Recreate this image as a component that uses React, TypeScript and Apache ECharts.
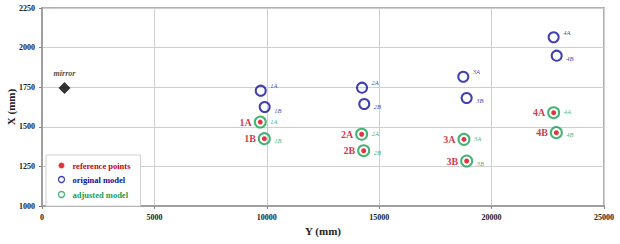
import React, { useEffect, useRef } from "react";
import * as echarts from "echarts";

const pointNames = ["1A", "1B", "2A", "2B", "3A", "3B", "4A", "4B"];
// horizontal axis "Y (mm)" and vertical axis "X (mm)"
const refY = [9710, 9890, 14220, 14310, 18770, 18890, 22760, 22880];
const refX = [1530, 1425, 1453, 1349, 1421, 1284, 1589, 1463];
const origY = [9730, 9905, 14235, 14335, 18740, 18890, 22760, 22895];
const origX = [1728, 1625, 1747, 1644, 1816, 1682, 2065, 1949];
const adjY = [9710, 9890, 14220, 14310, 18770, 18890, 22760, 22880];
const adjX = [1530, 1425, 1453, 1349, 1421, 1284, 1589, 1463];
const mirrorY = [1000];
const mirrorX = [1745];
const xTicks = [0, 5000, 10000, 15000, 20000, 25000];
const yTicks = [1000, 1250, 1500, 1750, 2000, 2250];

const RED = "#e00010";
const RED_TXT = "#cc0010";
const BLUE = "#10109c";
const GREEN = "#14a050";
const SERIF = "'Liberation Serif', 'Times New Roman', serif";

export default function App() {
  const ref = useRef<HTMLDivElement>(null);
  useEffect(() => {
    document.body.style.margin = "0";
    const chart = echarts.init(ref.current!, null, { renderer: "svg" });
    const isA = (n: string) => n.endsWith("A");
    const option: any = {
      animation: false,
      backgroundColor: "#fff",
      textStyle: { fontFamily: SERIF },
      grid: {
        left: 42,
        right: 16,
        top: 8,
        bottom: 38,
        outerBoundsMode: "none",
        containLabel: false,
        show: true,
        borderColor: "#b0b0b0",
        borderWidth: 2,
      },
      legend: {
        orient: "vertical",
        left: 46,
        top: 155,
        itemWidth: 6,
        itemHeight: 6,
        itemGap: 4,
        padding: [6, 10, 6, 10],
        backgroundColor: "#fff",
        borderColor: "#d0d0d0",
        borderWidth: 1,
        textStyle: { fontFamily: SERIF, fontWeight: "bold", fontSize: 8.5, padding: [0, 0, 0, 3] },
        data: [
          { name: "reference points", icon: "circle", itemStyle: { color: RED }, textStyle: { color: RED_TXT } },
          { name: "original model", icon: "circle", itemStyle: { color: "none", borderColor: BLUE, borderWidth: 1.3 }, textStyle: { color: BLUE } },
          { name: "adjusted model", icon: "circle", itemStyle: { color: "none", borderColor: GREEN, borderWidth: 1.3 }, textStyle: { color: GREEN } },
        ],
      },
      xAxis: {
        type: "value",
        min: xTicks[0],
        max: xTicks[xTicks.length - 1],
        interval: 5000,
        name: "Y (mm)",
        nameLocation: "middle",
        nameGap: 19,
        nameMoveOverlap: false,
        nameTextStyle: { fontFamily: SERIF, fontWeight: "bold", fontSize: 11, color: "#222" },
        axisLine: { lineStyle: { color: "#a0a0a0", width: 2 } },
        axisTick: { show: true, length: 3, lineStyle: { color: "#888" } },
        axisLabel: { fontFamily: SERIF, fontWeight: "bold", fontSize: 8, color: "#222", margin: 7, formatter: (v: number) => String(v) },
        splitLine: { lineStyle: { color: "#cfcfcf", width: 1 } },
      },
      yAxis: {
        type: "value",
        min: yTicks[0],
        max: yTicks[yTicks.length - 1],
        interval: 250,
        name: "X (mm)",
        nameLocation: "middle",
        nameGap: 26,
        nameMoveOverlap: false,
        nameTextStyle: { fontFamily: SERIF, fontWeight: "bold", fontSize: 11, color: "#222" },
        axisLine: { show: true, lineStyle: { color: "#a0a0a0", width: 2 } },
        axisTick: { show: true, length: 3, lineStyle: { color: "#888" } },
        axisLabel: { fontFamily: SERIF, fontWeight: "bold", fontSize: 8, color: "#222", margin: 7, formatter: (v: number) => String(v) },
        splitLine: { lineStyle: { color: "#cfcfcf", width: 1 } },
      },
      series: [
        {
          name: "mirror",
          type: "scatter",
          symbol: "diamond",
          symbolSize: 12,
          itemStyle: { color: "#000" },
          data: mirrorY.map((v, i) => ({ value: [v, mirrorX[i]], name: "mirror" })),
          label: {
            show: true,
            position: "top",
            distance: 4,
            formatter: "{b}",
            fontFamily: SERIF,
            fontStyle: "italic",
            fontWeight: "bold",
            fontSize: 8,
            color: "#111",
          },
          z: 5,
        },
        {
          name: "original model",
          type: "scatter",
          symbol: "circle",
          symbolSize: 10,
          itemStyle: { color: "none", borderColor: BLUE, borderWidth: 2 },
          data: origY.map((v, i) => ({
            value: [v, origX[i]],
            name: pointNames[i],
            label: { offset: isA(pointNames[i]) ? [-1, -5] : [-1, 3] },
          })),
          label: {
            show: true,
            position: "right",
            distance: 3,
            formatter: "{b}",
            fontFamily: SERIF,
            fontStyle: "italic",
            fontSize: 6.5,
            color: BLUE,
          },
          z: 3,
        },
        {
          name: "adjusted model",
          type: "scatter",
          symbol: "circle",
          symbolSize: 11,
          itemStyle: { color: "none", borderColor: GREEN, borderWidth: 2 },
          data: adjY.map((v, i) => ({
            value: [v, adjX[i]],
            name: pointNames[i],
            label: { offset: isA(pointNames[i]) ? [-1, -1] : [-1, 2] },
          })),
          label: {
            show: true,
            position: "right",
            distance: 3,
            formatter: "{b}",
            fontFamily: SERIF,
            fontStyle: "italic",
            fontSize: 6.5,
            color: GREEN,
          },
          z: 3,
        },
        {
          name: "reference points",
          type: "scatter",
          symbol: "circle",
          symbolSize: 5,
          itemStyle: { color: RED },
          data: refY.map((v, i) => ({ value: [v, refX[i]], name: pointNames[i] })),
          label: {
            show: true,
            position: "left",
            distance: 6,
            formatter: "{b}",
            fontFamily: SERIF,
            fontWeight: "bold",
            fontSize: 10,
            color: RED_TXT,
          },
          z: 4,
        },
      ],
    };
    chart.setOption(option);
    return () => chart.dispose();
  }, []);
  return <div ref={ref} style={{ width: 620, height: 244 }} />;
}
